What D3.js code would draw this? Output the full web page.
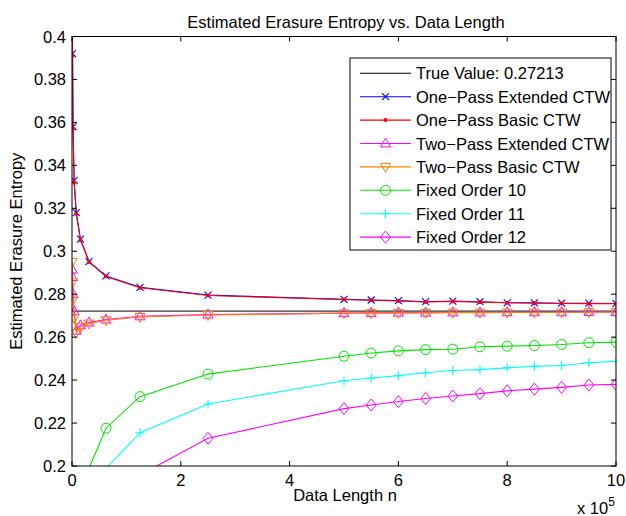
<!DOCTYPE html>
<html>
<head>
<meta charset="utf-8">
<script src="https://cdnjs.cloudflare.com/ajax/libs/d3/7.8.5/d3.min.js"></script>
<style>
  html, body { margin: 0; padding: 0; background: #fff; }
  svg { display: block; font-family: "Liberation Sans", Arial, Helvetica, sans-serif; }
</style>
</head>
<body>
<svg id="chart" width="626" height="516"></svg>
<script>
// data lengths n
const nValues = [488, 977, 1953, 3906, 7812, 15625, 31250, 62500, 125000, 250000,
  500000, 550000, 600000, 650000, 700000, 750000, 800000, 850000, 900000, 950000, 1000000];

const trueValue = 0.27213;

const onePassExtended = [0.45, 0.392, 0.358, 0.333, 0.318, 0.3056, 0.2952, 0.2885, 0.2832, 0.2796,
  0.2776, 0.2773, 0.2770, 0.2765, 0.2768, 0.2765, 0.2760, 0.2760, 0.2758, 0.2758, 0.2757];
const onePassBasic = [0.45, 0.391, 0.357, 0.332, 0.3175, 0.3052, 0.2950, 0.2882, 0.2830, 0.2794,
  0.2775, 0.2772, 0.2768, 0.2764, 0.2766, 0.2763, 0.2760, 0.2758, 0.2757, 0.2756, 0.2756];
const twoPassExtended = [0.2915, 0.2880, 0.2800, 0.2720, 0.2630, 0.2655, 0.2668, 0.2682, 0.2697, 0.2705,
  0.2712, 0.2713, 0.2714, 0.2714, 0.2715, 0.2715, 0.2716, 0.2716, 0.2716, 0.2717, 0.2717];
const twoPassBasic = [0.2950, 0.2855, 0.2775, 0.2690, 0.2620, 0.2648, 0.2663, 0.2679, 0.2694, 0.2703,
  0.2711, 0.2712, 0.2713, 0.2713, 0.2714, 0.2714, 0.2715, 0.2715, 0.2715, 0.2716, 0.2716];
const fixedOrder10 = [null, null, null, null, null, null, 0.1990, 0.2176, 0.2323, 0.2428,
  0.2511, 0.2526, 0.2536, 0.2542, 0.2544, 0.2555, 0.2558, 0.2561, 0.2566, 0.2574, 0.2577];
const fixedOrder11 = [null, null, null, null, null, null, null, 0.1989, 0.2155, 0.2289,
  0.2397, 0.2410, 0.2421, 0.2434, 0.2445, 0.2449, 0.2457, 0.2464, 0.2468, 0.2481, 0.2487];
const fixedOrder12 = [null, null, null, null, null, null, null, null, 0.1958, 0.2129,
  0.2267, 0.2284, 0.2300, 0.2314, 0.2326, 0.2337, 0.2350, 0.2358, 0.2366, 0.2377, 0.2380];

const xTicks = [0, 200000, 400000, 600000, 800000, 1000000];
const yTicks = [0.2, 0.22, 0.24, 0.26, 0.28, 0.3, 0.32, 0.34, 0.36, 0.38, 0.4];

const seriesList = [
  { name: 'One\u2212Pass Extended CTW', values: onePassExtended, color: '#0000ff', marker: 'x' },
  { name: 'One\u2212Pass Basic CTW', values: onePassBasic, color: '#ff0000', marker: 'dot' },
  { name: 'Two\u2212Pass Extended CTW', values: twoPassExtended, color: '#ff00ff', marker: 'triUp' },
  { name: 'Two\u2212Pass Basic CTW', values: twoPassBasic, color: '#ff8000', marker: 'triDown' },
  { name: 'Fixed Order 10', values: fixedOrder10, color: '#00e600', marker: 'circle' },
  { name: 'Fixed Order 11', values: fixedOrder11, color: '#00ffff', marker: 'plus' },
  { name: 'Fixed Order 12', values: fixedOrder12, color: '#ff00ff', marker: 'diamond' }
];

const svg = d3.select('#chart');
const margin = { top: 36.5, right: 10, bottom: 50, left: 72 };
const plotLeft = margin.left, plotRight = 616, plotTop = margin.top, plotBottom = 466;

const x = d3.scaleLinear().domain([0, 1000000]).range([plotLeft, plotRight]);
const y = d3.scaleLinear().domain([0.2, 0.4]).range([plotBottom, plotTop]);

svg.append('defs').append('clipPath').attr('id', 'plotClip')
  .append('rect')
  .attr('x', plotLeft).attr('y', plotTop)
  .attr('width', plotRight - plotLeft).attr('height', plotBottom - plotTop);

// draw one marker
function drawMarker(g, type, cx, cy, color) {
  if (type === 'x') {
    const s = 3.5;
    g.append('path').attr('d', `M${cx - s},${cy - s}L${cx + s},${cy + s}M${cx - s},${cy + s}L${cx + s},${cy - s}`)
      .attr('stroke', color).attr('stroke-width', 1.1).attr('fill', 'none');
  } else if (type === 'dot') {
    g.append('circle').attr('cx', cx).attr('cy', cy).attr('r', 2).attr('fill', color);
  } else if (type === 'triUp') {
    g.append('path').attr('d', `M${cx},${cy - 5.5}L${cx + 5},${cy + 3.5}L${cx - 5},${cy + 3.5}Z`)
      .attr('stroke', color).attr('stroke-width', 1).attr('fill', 'none');
  } else if (type === 'triDown') {
    g.append('path').attr('d', `M${cx},${cy + 5.5}L${cx + 5},${cy - 3.5}L${cx - 5},${cy - 3.5}Z`)
      .attr('stroke', color).attr('stroke-width', 1).attr('fill', 'none');
  } else if (type === 'circle') {
    g.append('circle').attr('cx', cx).attr('cy', cy).attr('r', 5)
      .attr('stroke', color).attr('stroke-width', 1).attr('fill', 'none');
  } else if (type === 'plus') {
    const s = 4.5;
    g.append('path').attr('d', `M${cx - s},${cy}L${cx + s},${cy}M${cx},${cy - s}L${cx},${cy + s}`)
      .attr('stroke', color).attr('stroke-width', 1.1).attr('fill', 'none');
  } else if (type === 'diamond') {
    g.append('path').attr('d', `M${cx},${cy - 6}L${cx + 5},${cy}L${cx},${cy + 6}L${cx - 5},${cy}Z`)
      .attr('stroke', color).attr('stroke-width', 1).attr('fill', 'none');
  }
}

// plot frame background
svg.append('rect')
  .attr('x', plotLeft).attr('y', plotTop)
  .attr('width', plotRight - plotLeft).attr('height', plotBottom - plotTop)
  .attr('fill', '#fff');

const plotG = svg.append('g').attr('clip-path', 'url(#plotClip)');

// true value line
plotG.append('line')
  .attr('x1', x(0)).attr('x2', x(1000000))
  .attr('y1', y(trueValue)).attr('y2', y(trueValue))
  .attr('stroke', '#000').attr('stroke-width', 1);

const line = d3.line()
  .defined(d => d[1] !== null)
  .x(d => x(d[0]))
  .y(d => y(d[1]));

seriesList.forEach(s => {
  const pts = nValues.map((n, i) => [n, s.values[i]]);
  plotG.append('path')
    .datum(pts)
    .attr('d', line)
    .attr('fill', 'none')
    .attr('stroke', s.color)
    .attr('stroke-width', 1.1);
  const mg = plotG.append('g');
  pts.filter(p => p[1] !== null && p[1] >= 0.2 && p[1] <= 0.4)
    .forEach(p => drawMarker(mg, s.marker, x(p[0]), y(p[1]), s.color));
});

// axes (MATLAB box style, inward ticks)
const fontSize = 16.5;
const tickLen = 5;
const axG = svg.append('g').attr('stroke', '#000').attr('stroke-width', 1);
axG.append('rect')
  .attr('x', plotLeft).attr('y', plotTop)
  .attr('width', plotRight - plotLeft).attr('height', plotBottom - plotTop)
  .attr('fill', 'none');

xTicks.forEach(t => {
  axG.append('line').attr('x1', x(t)).attr('x2', x(t)).attr('y1', plotBottom).attr('y2', plotBottom - tickLen);
  axG.append('line').attr('x1', x(t)).attr('x2', x(t)).attr('y1', plotTop).attr('y2', plotTop + tickLen);
  svg.append('text')
    .attr('x', x(t)).attr('y', 486)
    .attr('text-anchor', 'middle')
    .attr('font-size', fontSize)
    .text(t / 100000);
});

yTicks.forEach(t => {
  axG.append('line').attr('x1', plotLeft).attr('x2', plotLeft + tickLen).attr('y1', y(t)).attr('y2', y(t));
  axG.append('line').attr('x1', plotRight).attr('x2', plotRight - tickLen).attr('y1', y(t)).attr('y2', y(t));
  svg.append('text')
    .attr('x', 66).attr('y', y(t) + 6)
    .attr('text-anchor', 'end')
    .attr('font-size', fontSize)
    .text(String(+t.toFixed(2)));
});

// title and labels
svg.append('text')
  .attr('x', 346).attr('y', 28)
  .attr('text-anchor', 'middle')
  .attr('font-size', fontSize)
  .text('Estimated Erasure Entropy vs. Data Length');

svg.append('text')
  .attr('x', 345).attr('y', 501)
  .attr('text-anchor', 'middle')
  .attr('font-size', fontSize)
  .text('Data Length n');

svg.append('text')
  .attr('transform', `translate(22,${(plotTop + plotBottom) / 2}) rotate(-90)`)
  .attr('text-anchor', 'middle')
  .attr('font-size', fontSize)
  .text('Estimated Erasure Entropy');

const expText = svg.append('text')
  .attr('x', 577).attr('y', 514)
  .attr('font-size', fontSize);
expText.append('tspan').text('x 10');
expText.append('tspan').attr('dy', -8).attr('font-size', 12).text('5');

// legend
const legend = svg.append('g');
legend.append('rect')
  .attr('x', 350).attr('y', 58)
  .attr('width', 261).attr('height', 192)
  .attr('fill', '#fff').attr('stroke', '#000').attr('stroke-width', 1);

const legendItems = [{ name: 'True Value: 0.27213', color: '#000', marker: null }].concat(seriesList);
legendItems.forEach((s, i) => {
  const ly = 73.3 + i * 23.4;
  legend.append('line')
    .attr('x1', 360).attr('x2', 411)
    .attr('y1', ly).attr('y2', ly)
    .attr('stroke', s.color).attr('stroke-width', 1.1);
  if (s.marker) drawMarker(legend, s.marker, 385.5, ly, s.color);
  legend.append('text')
    .attr('x', 416).attr('y', ly + 6)
    .attr('font-size', fontSize)
    .text(s.name);
});
</script>
</body>
</html>
